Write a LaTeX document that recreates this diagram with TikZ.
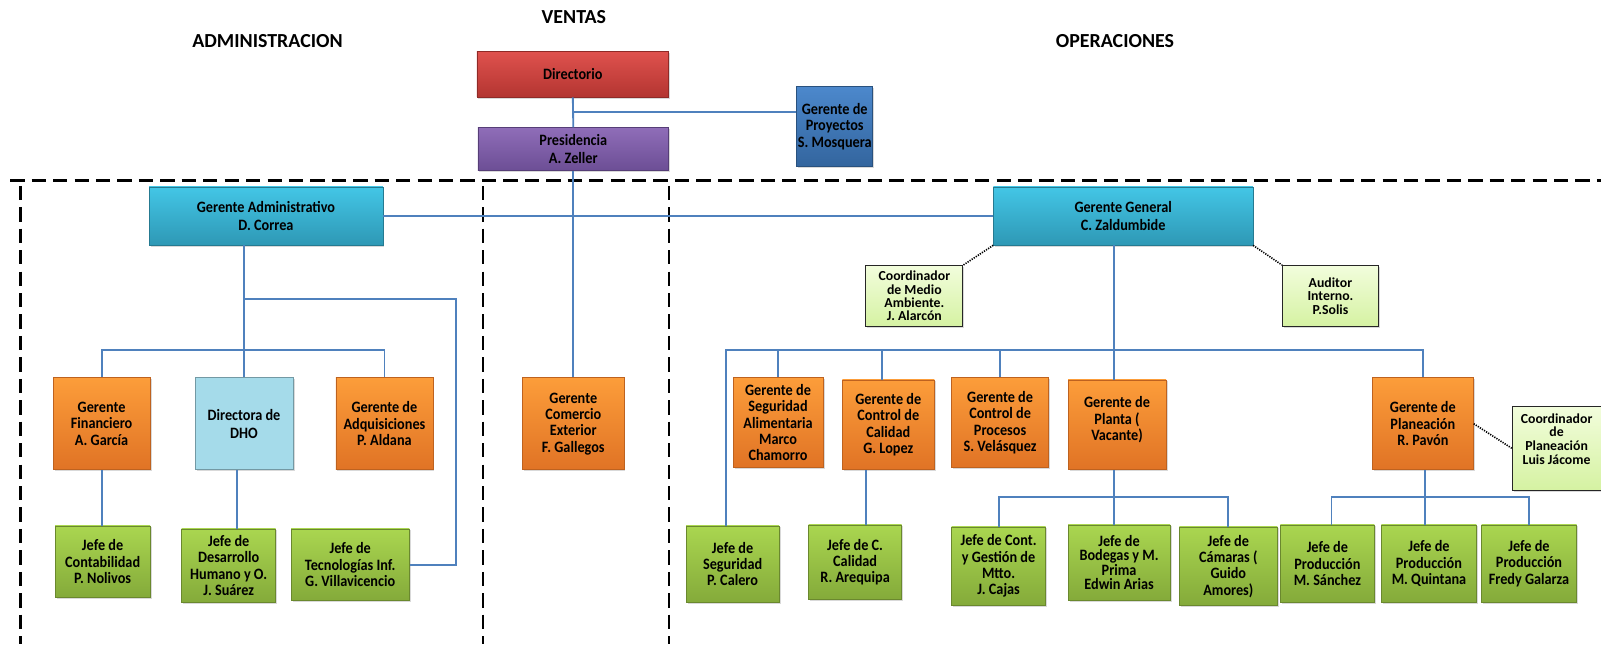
\documentclass[tikz,border=0pt]{standalone}
\usepackage{fontspec}
\setmainfont{Carlito}
\newfontfamily\condfont{Carlito}[FakeStretch=0.9]
\usetikzlibrary{shadows}
\definecolor{redT}{HTML}{E0524E}
\definecolor{redB}{HTML}{B33531}
\definecolor{purT}{HTML}{8F6DB8}
\definecolor{purB}{HTML}{6C4E95}
\definecolor{bluT}{HTML}{4C88CC}
\definecolor{bluB}{HTML}{33659E}
\definecolor{cyaT}{HTML}{43C6E6}
\definecolor{cyaB}{HTML}{2E98B5}
\definecolor{oraT}{HTML}{FC9D3A}
\definecolor{oraB}{HTML}{E07325}
\definecolor{ltblue}{HTML}{A5DBEA}
\definecolor{greT}{HTML}{AAD650}
\definecolor{greB}{HTML}{84AA3A}
\definecolor{lgrT}{HTML}{F2FDDC}
\definecolor{lgrB}{HTML}{D5F2A2}
\definecolor{lineblue}{HTML}{4F81BD}
\tikzset{
  box/.style={line width=0.6pt, align=center, inner sep=1pt,
    font=\condfont\fontsize{15.5}{16}\selectfont\bfseries,
    drop shadow={shadow xshift=1.5pt,shadow yshift=-1.5pt,opacity=0.3}},
  redbox/.style={box, top color=redT, bottom color=redB, draw=redB!80!black},
  purbox/.style={box, top color=purT, bottom color=purB, draw=purB!80!black},
  blubox/.style={box, top color=bluT, bottom color=bluB, draw=bluB!80!black},
  cyabox/.style={box, top color=cyaT, bottom color=cyaB, draw=cyaB!80!black},
  orabox/.style={box, top color=oraT, bottom color=oraB, draw=oraB!85!black},
  lbbox/.style={box, fill=ltblue, draw=ltblue!70!black},
  grebox/.style={box, top color=greT, bottom color=greB, draw=greB!80!black},
  lgrbox/.style={box, top color=lgrT, bottom color=lgrB, draw=black!85, line width=0.8pt,
    font=\fontsize{13.5}{13}\selectfont\bfseries},
  conn/.style={draw=lineblue, line width=1.8pt},
  dotlink/.style={draw=black, line width=1.6pt, dash pattern=on 1.2pt off 1.2pt},
  sepline/.style={draw=black, line width=2.5pt, dash pattern=on 14pt off 7pt},
  heading/.style={font=\fontsize{19.5}{22}\selectfont\bfseries},
}
\begin{document}
\begin{tikzpicture}[x=1pt,y=-1pt]
\useasboundingbox (0,0) rectangle (1568,631);
% separators
\draw[sepline] (10,177) -- (1568,177);
\draw[sepline] (20,182) -- (20,631);
\draw[sepline] (473,182) -- (473,631);
\draw[sepline] (655,182) -- (655,631);
% headings
\node[heading] (hven) at (562,17) {VENTAS};
\node[heading] (hadm) at (262,40) {ADMINISTRACION};
\node[heading] (hope) at (1092,40) {OPERACIONES};
% top
\node[redbox, minimum width=188, minimum height=45] (dir) at (561,72.5) {Directorio};
\node[purbox, minimum width=187, minimum height=42, font=\condfont\fontsize{15.5}{17}\selectfont\bfseries] (pres) at (561.5,146) {Presidencia\\A. Zeller};
\node[blubox, minimum width=69, minimum height=78] (proy) at (817.5,124) {Gerente de\\Proyectos\\S. Mosquera};
\node[cyabox, minimum width=229, minimum height=57, font=\condfont\fontsize{15.5}{18}\selectfont\bfseries] (adm) at (260.5,211.5) {Gerente Administrativo\\D. Correa};
\node[cyabox, minimum width=254, minimum height=57, font=\condfont\fontsize{15.5}{18}\selectfont\bfseries] (gg) at (1100,211.5) {Gerente General\\C. Zaldumbide};
\node[lgrbox, minimum width=95, minimum height=60] (cma) at (895.5,290) {Coordinador\\de Medio\\Ambiente.\\J. Alarcón};
\node[lgrbox, minimum width=94, minimum height=60] (aud) at (1303,290) {Auditor\\Interno.\\P.Solis};
% second row
\node[orabox, minimum width=95, minimum height=90] (fin) at (99.5,415) {Gerente\\Financiero\\A. García};
\node[lbbox, minimum width=96, minimum height=90, font=\condfont\fontsize{15.5}{18}\selectfont\bfseries] (dho) at (239,415) {Directora de\\DHO};
\node[orabox, minimum width=95, minimum height=90] (adq) at (376.5,415) {Gerente de\\Adquisiciones\\P. Aldana};
\node[orabox, minimum width=99, minimum height=90] (cex) at (561.5,415) {Gerente\\Comercio\\Exterior\\F. Gallegos};
\node[orabox, minimum width=88, minimum height=88] (sal) at (762,414) {Gerente de\\Seguridad\\Alimentaria\\Marco\\Chamorro};
\node[orabox, minimum width=90, minimum height=88] (cca) at (870,416) {Gerente de\\Control de\\Calidad\\G. Lopez};
\node[orabox, minimum width=95, minimum height=88] (cpr) at (979.5,414) {Gerente de\\Control de\\Procesos\\S. Velásquez};
\node[orabox, minimum width=96, minimum height=88, text depth=12pt] (pla) at (1094,416) {Gerente de\\Planta (\\Vacante)};
\node[orabox, minimum width=99, minimum height=90] (pln) at (1393.5,415) {Gerente de\\Planeación\\R. Pavón};
\node[lgrbox, minimum width=87, minimum height=82] (cpl) at (1524.5,439) {};
\node[font=\fontsize{13.5}{13.5}\selectfont\bfseries, align=center] (cplt) at (1524.5,430) {Coordinador\\de\\Planeación\\Luis Jácome};
% third row
\node[grebox, minimum width=93, minimum height=70] (nol) at (100.5,550) {Jefe de\\Contabilidad\\P. Nolivos};
\node[grebox, minimum width=92, minimum height=72] (sua) at (224,554) {Jefe de\\Desarrollo\\Humano y O.\\J. Suárez};
\node[grebox, minimum width=116, minimum height=70] (vil) at (343,553) {Jefe de\\Tecnologías Inf.\\G. Villavicencio};
\node[grebox, minimum width=91, minimum height=75] (cal) at (717.5,552.5) {Jefe de\\Seguridad\\P. Calero};
\node[grebox, minimum width=91, minimum height=73] (are) at (837.5,550.5) {Jefe de C.\\Calidad\\R. Arequipa};
\node[grebox, minimum width=92, minimum height=77] (caj) at (978,554.5) {Jefe de Cont.\\y Gestión de\\Mtto.\\J. Cajas};
\node[grebox, minimum width=100, minimum height=74, font=\condfont\fontsize{15.5}{14}\selectfont\bfseries] (bod) at (1096,551) {Jefe de\\Bodegas y M.\\Prima\\Edwin Arias};
\node[grebox, minimum width=96, minimum height=77] (cam) at (1203,554.5) {Jefe de\\Cámaras (\\Guido\\Amores)};
\node[grebox, minimum width=92, minimum height=76] (san) at (1300,552) {Jefe de\\Producción\\M. Sánchez};
\node[grebox, minimum width=93, minimum height=76] (qui) at (1399.5,552) {Jefe de\\Producción\\M. Quintana};
\node[grebox, minimum width=93, minimum height=76] (gal) at (1497.5,552) {Jefe de\\Producción\\Fredy Galarza};
% junction coordinates
\coordinate (j0) at (561,110);
\coordinate (ja) at (0,343);
\coordinate (jb) at (447,293);
\coordinate (jc) at (232,0);
\coordinate (jo) at (711,343);
\coordinate (xo) at (1091,0);
\coordinate (xc) at (864,0);
\coordinate (xa) at (848,0);
\coordinate (jp) at (0,487);
\coordinate (xq) at (1396,0);
\coordinate (xs) at (1304,0);
% connectors top
\draw[conn] (dir.south) -- (pres.north);
\draw[conn] (j0) -- (proy.west |- j0);
\draw[conn] (pres.south) -- (cex.north);
\draw[conn] (adm.east) -- (gg.west);
% administration
\draw[conn] (dho.north |- adm.south) -- (dho.north);
\draw[conn] (fin.north) -- (fin.north |- ja) -- (adq.north |- ja) -- (adq.north);
\draw[conn] (dho.north |- jb) -- (jb) -- (jb |- vil.east) -- (vil.east);
\draw[conn] (fin.south) -- (fin.south |- nol.north);
\draw[conn] (jc |- dho.south) -- (jc |- sua.north);
% operations
\draw[conn] (xo |- gg.south) -- (xo |- pla.north);
\draw[conn] (jo |- cal.north) -- (jo) -- (pln.north |- jo) -- (pln.north);
\draw[conn] (sal.north |- jo) -- (sal.north);
\draw[conn] (xc |- jo) -- (xc |- cca.north);
\draw[conn] (cpr.north |- jo) -- (cpr.north);
\draw[conn] (xa |- cca.south) -- (xa |- are.north);
\draw[conn] (xo |- pla.south) -- (xo |- bod.north);
\draw[conn] (caj.north) -- (caj.north |- jp) -- (cam.north |- jp) -- (cam.north);
\draw[conn] (xq |- pln.south) -- (xq |- qui.north);
\draw[conn] (xs |- san.north) -- (xs |- jp) -- (gal.north |- jp) -- (gal.north);
% dotted staff links
\draw[dotlink] (gg.south west) -- (cma.north east);
\draw[dotlink] (gg.south east) -- (aud.north west);
\draw[dotlink] (pln.east) -- (cpl.west);
\end{tikzpicture}
\end{document}
